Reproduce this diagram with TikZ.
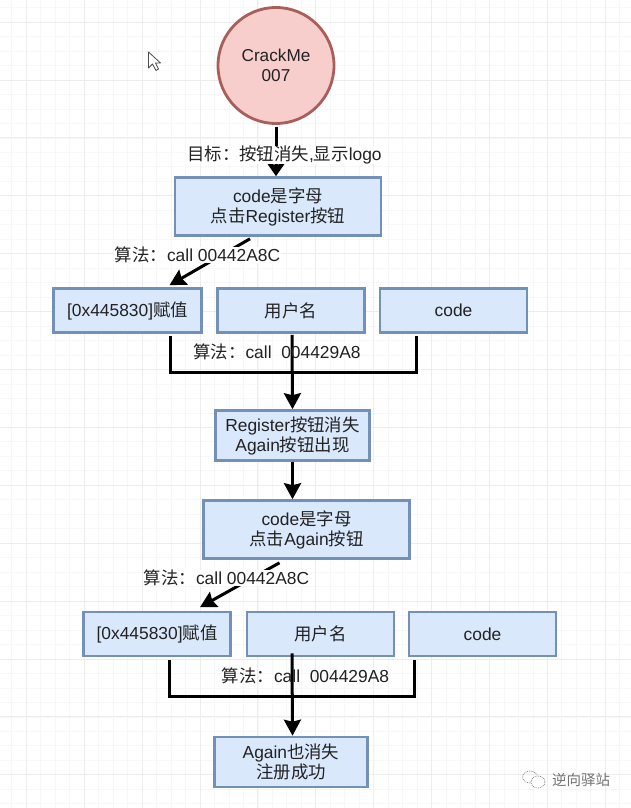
\documentclass[tikz,border=0pt]{standalone}
\usepackage{fontspec}
\setmainfont{Liberation Sans}
\newfontfamily\cjk{Noto Sans CJK SC}
\usetikzlibrary{arrows.meta,calc}
\newcommand\cj[1]{{\cjk #1}}
\definecolor{boxfill}{HTML}{DAE8FC}
\definecolor{boxline}{HTML}{7391B7}
\definecolor{redfill}{HTML}{F8CECC}
\definecolor{redline}{HTML}{A85F5C}
\definecolor{ink}{HTML}{222222}
\tikzset{
  box/.style={draw=boxline,fill=boxfill,line width=2.6pt,inner sep=0pt,align=center,text=ink,
    font=\fontsize{17.4}{20}\selectfont,execute at begin node={\vspace*{2pt}}},
  startnode/.style={circle,draw=redline,fill=redfill,line width=2.8pt,inner sep=0pt,minimum size=116pt,
    align=center,text=ink,font=\fontsize{17.2}{20}\selectfont,execute at begin node={\vspace*{2pt}}},
  lab/.style={inner sep=0pt,text=ink,font=\fontsize{17.4}{19}\selectfont},
  whitelab/.style={lab,fill=white,inner ysep=0pt,inner xsep=1pt},
  conn/.style={draw=black,line width=3pt},
  arrowconn/.style={conn,-{Stealth[length=16pt,width=17pt,inset=2pt]}},
  shortarrow/.style={conn,-{Stealth[length=12.5pt,width=17pt,inset=1pt]}},
  gridminor/.style={draw=black!3,line width=0.6pt},
  gridmajor/.style={draw=black!7,line width=0.8pt},
}
\begin{document}
\begin{tikzpicture}[x=1pt,y=-1pt]
\useasboundingbox (0,0) rectangle (631,808);
\fill[white] (0,0) rectangle (631,808);
% grid
\foreach \i in {-1,...,44} {
  \draw[gridminor] ({26.2+14.475*\i},0) -- ({26.2+14.475*\i},808);
}
\foreach \i in {-1,...,56} {
  \draw[gridminor] (0,{22+14.475*\i}) -- (631,{22+14.475*\i});
}
\foreach \i in {0,...,10} {
  \draw[gridmajor] ({26.2+57.9*\i},0) -- ({26.2+57.9*\i},808);
}
\foreach \i in {0,...,13} {
  \draw[gridmajor] (0,{22+57.9*\i}) -- (631,{22+57.9*\i});
}
% cursor
\draw[draw=black!70,fill=white,line width=0.8pt,line join=round]
  (148.5,52) -- (148.5,68) -- (152.5,64) -- (156,70.5) -- (158.5,69) -- (155.5,63) -- (160.5,63) -- cycle;
% nodes
\node[startnode] (start) at (276,65.5) {CrackMe\\007};
\node[box,minimum width=206pt,minimum height=58pt] (code1) at (278,206.5) {code\cj{是字母}\\\cj{点击}Register\cj{按钮}};
\node[box,minimum width=148pt,minimum height=44pt] (addr1) at (127.5,310.5) {[0x445830]\cj{赋值}};
\node[box,minimum width=147pt,minimum height=44pt] (user1) at (291,310.5) {\cj{用户名}};
\node[box,minimum width=147pt,minimum height=44pt] (key1) at (453.5,310.5) {code};
\node[box,minimum width=154pt,minimum height=50pt] (vanish) at (292.5,435.5) {Register\cj{按钮消失}\\Again\cj{按钮出现}};
\node[box,minimum width=206pt,minimum height=58pt] (code2) at (306.5,529.5) {code\cj{是字母}\\\cj{点击}Again\cj{按钮}};
\node[box,minimum width=147pt,minimum height=44pt] (addr2) at (157,634) {[0x445830]\cj{赋值}};
\node[box,minimum width=147pt,minimum height=44pt] (user2) at (320.5,634) {\cj{用户名}};
\node[box,minimum width=147pt,minimum height=44pt] (key2) at (482.5,634) {code};
\node[box,minimum width=153pt,minimum height=50pt] (done) at (291,762) {Again\cj{也消失}\\\cj{注册成功}};
% junction coordinates
\coordinate (j1l) at (170,372);
\coordinate (j1r) at (416,372);
\coordinate (j2l) at (169,696);
\coordinate (j2r) at (414,696);
% connectors
\draw[shortarrow] ([yshift=-2pt]start.south) -- (start.south |- code1.north);
\draw[arrowconn] ([xshift=-28pt,yshift=-2pt]code1.south) -- ([xshift=42pt,yshift=2pt]addr1.north);
\draw[conn] ([xshift=42.5pt,yshift=-2.5pt]addr1.south) -- (j1l) -- (j1r) -- ([xshift=-37.5pt,yshift=-2.5pt]key1.south);
\draw[arrowconn] ([xshift=1pt,yshift=-1pt]user1.south) -- (vanish.north);
\draw[arrowconn] (vanish.south) -- (vanish.south |- code2.north);
\draw[arrowconn] ([xshift=-27pt,yshift=-3pt]code2.south) -- ([xshift=43pt,yshift=3.5pt]addr2.north);
\draw[conn] ([xshift=12pt,yshift=-3pt]addr2.south) -- (j2l) -- (j2r) -- ([xshift=-68.5pt,yshift=-3pt]key2.south);
\draw[arrowconn] ([xshift=-28.5pt,yshift=4pt]user2.south) -- ([xshift=1.5pt]done.north);
% labels
\node[whitelab,text height=14pt,text depth=4pt] (goal) at (284.5,155) {\cj{目标：按钮消失},\cj{显示}logo};
\node[whitelab] (algo1) at (197.5,255) {\cj{算法：}call 00442A8C};
\node[lab] (algo2) at (277,352) {\cj{算法：}call\ \ 004429A8};
\node[whitelab] (algo3) at (226.5,578) {\cj{算法：}call 00442A8C};
\node[lab] (algo4) at (305.5,676) {\cj{算法：}call\ \ 004429A8};
% watermark
\draw[black!45,line width=0.8pt,densely dotted] (530,777) ellipse (7.5pt and 6pt);
\draw[black!45,fill=white,line width=0.8pt,densely dotted] (538,782) ellipse (7pt and 6pt);
\node[inner sep=0pt,text=black!55,font=\cjk\fontsize{14.5}{16}\selectfont] (mark) at (581,780) {逆向驿站};
\end{tikzpicture}
\end{document}
